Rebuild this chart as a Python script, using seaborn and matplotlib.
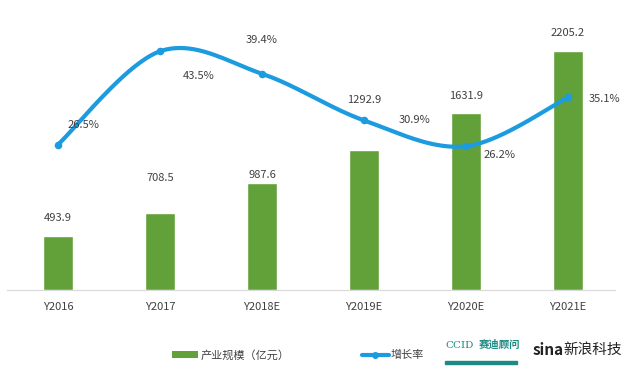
import numpy as np
import pandas as pd
import matplotlib
matplotlib.use("Agg")
import matplotlib.pyplot as plt
import seaborn as sns
from matplotlib.patches import Patch, Rectangle
from matplotlib.lines import Line2D

# data
years = ["Y2016", "Y2017", "Y2018E", "Y2019E", "Y2020E", "Y2021E"]
scale = [493.9, 708.5, 987.6, 1292.9, 1631.9, 2205.2]
growth = [26.5, 43.5, 39.4, 30.9, 26.2, 35.1]

bar_label_offsets = [10, 22, 2, 32, 9, 9]          # points above bar top
growth_label_offsets = [(18, 14), (28, -18), (0, 24), (36, 0), (24, -6), (26, -1)]

GREEN = "#62A03A"
BLUE = "#1C9BE0"
TEXT = "#404040"

sns.set_style("white")
plt.rcParams["font.family"] = ["Noto Sans CJK SC", "DejaVu Sans"]

df = pd.DataFrame({"year": years, "scale": scale, "growth": growth})

fig = plt.figure(figsize=(6.3, 3.92), dpi=100)
ax = fig.add_axes([7 / 630, 102 / 392, 608 / 630, 270 / 392])

sns.barplot(data=df, x="year", y="scale", color=GREEN, width=0.29,
            saturation=1, ax=ax)
ax.set_xlim(-0.5, 5.46)
ax.set_ylim(0, 2491)
ax.set_xlabel("")
ax.set_ylabel("")
ax.set_yticks([])
for s in ["left", "right", "top"]:
    ax.spines[s].set_visible(False)
ax.spines["bottom"].set_color("#D9D9D9")
ax.tick_params(axis="x", length=0, pad=9, labelsize=8, labelcolor=TEXT)

for i, v in enumerate(scale):
    ax.annotate(f"{v:.1f}", (i, v), xytext=(0, bar_label_offsets[i]),
                textcoords="offset points", ha="center", va="bottom",
                fontsize=8, color=TEXT)

# growth line on a second axis, smoothed like Excel (Catmull-Rom)
ax2 = ax.twinx()
ax2.set_ylim(0, 49.2)
ax2.set_yticks([])
for s in ax2.spines.values():
    s.set_visible(False)

xs = np.arange(len(growth), dtype=float)
ys = np.array(growth)
px = np.concatenate([[xs[0]], xs, [xs[-1]]])
py = np.concatenate([[ys[0]], ys, [ys[-1]]])
cx, cy = [], []
t = np.linspace(0, 1, 40)
for k in range(1, len(px) - 2):
    p0, p1, p2, p3 = (np.array([px[j], py[j]]) for j in range(k - 1, k + 3))
    m1 = (p2 - p0) / 2
    m2 = (p3 - p1) / 2
    h00 = 2 * t**3 - 3 * t**2 + 1
    h10 = t**3 - 2 * t**2 + t
    h01 = -2 * t**3 + 3 * t**2
    h11 = t**3 - t**2
    pts = (np.outer(h00, p1) + np.outer(h10, m1) + np.outer(h01, p2)
           + np.outer(h11, m2))
    cx.extend(pts[:, 0])
    cy.extend(pts[:, 1])
ax2.plot(cx, cy, color=BLUE, lw=3, solid_capstyle="round", zorder=3)
sns.scatterplot(x=xs, y=ys, color=BLUE, s=30, linewidth=0, ax=ax2, zorder=4)

for i, v in enumerate(growth):
    ax2.annotate(f"{v:.1f}%", (i, v), xytext=growth_label_offsets[i],
                 textcoords="offset points", ha="center", va="center",
                 fontsize=8, color=TEXT)

# legend
handles = [Patch(facecolor=GREEN, edgecolor="none"),
           Line2D([], [], color=BLUE, lw=3, marker="o", markersize=4)]
fig.legend(handles, ["产业规模（亿元）", "增长率"], loc="center",
           bbox_to_anchor=(298 / 630, 37 / 392), ncol=2, frameon=False,
           fontsize=8, labelcolor=TEXT, handlelength=2.4, handleheight=0.6,
           handletextpad=0.2, columnspacing=6.5)

# source logos as text
fig.text(445 / 630, 47 / 392, "CCID", fontsize=7.5, color="#1D8A83",
         family="DejaVu Serif", va="center")
fig.text(479 / 630, 47 / 392, "赛迪顾问", fontsize=7.5, color="#1D8A83",
         fontweight="bold", va="center")
fig.add_artist(Rectangle((445 / 630, 28 / 392), 72 / 630, 3 / 392,
                         transform=fig.transFigure, color="#1D8A83"))
fig.text(533 / 630, 42 / 392, "sina", fontsize=11, color="#222222",
         fontweight="bold", style="italic", va="center")
fig.text(563 / 630, 42 / 392, "新浪科技", fontsize=10.5, color="#222222",
         style="italic", va="center")

fig.savefig("out.png", dpi=100, facecolor="w")
